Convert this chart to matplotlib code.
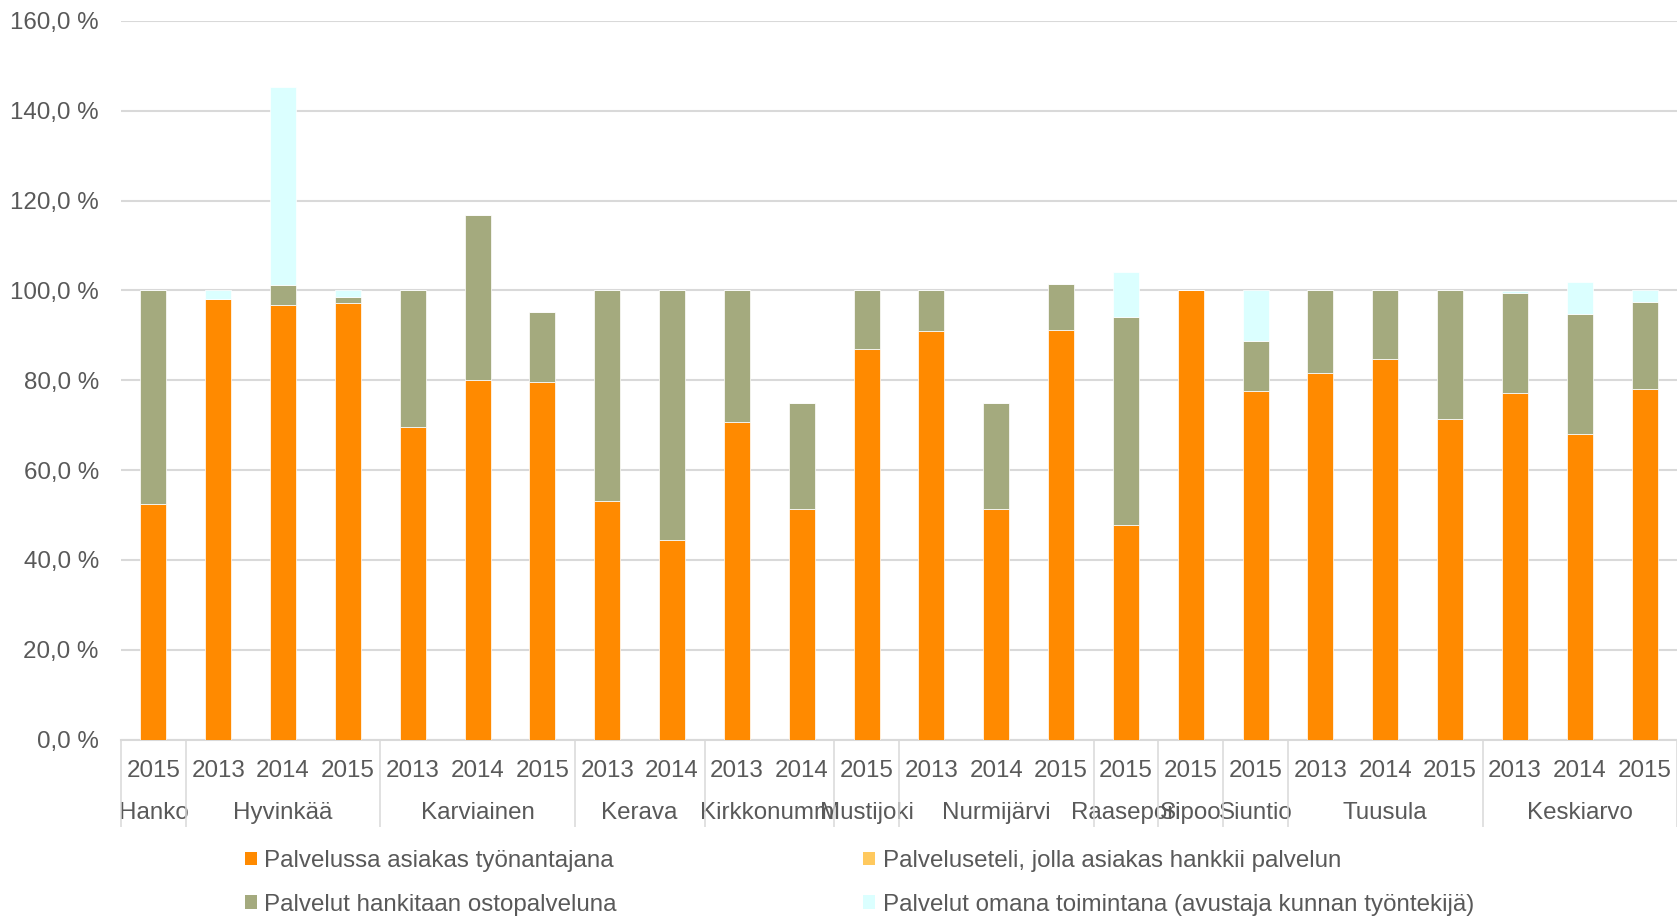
import matplotlib
matplotlib.use("Agg")
import matplotlib.pyplot as plt
from matplotlib.patches import Patch
import numpy as np

plt.rcParams['font.family'] = ['Liberation Sans', 'DejaVu Sans']

# ---- data ----
groups = ["Hanko", "Hyvinkää", "Karviainen", "Kerava", "Kirkkonummi", "Mustijoki",
          "Nurmijärvi", "Raasepori", "Sipoo", "Siuntio", "Tuusula", "Keskiarvo"]
group_years = [["2015"], ["2013", "2014", "2015"], ["2013", "2014", "2015"],
               ["2013", "2014"], ["2013", "2014"], ["2015"],
               ["2013", "2014", "2015"], ["2015"], ["2015"], ["2015"],
               ["2013", "2014", "2015"], ["2013", "2014", "2015"]]

series_names = ["Palvelussa asiakas työnantajana",
                "Palveluseteli, jolla asiakas hankkii palvelun",
                "Palvelut hankitaan ostopalveluna",
                "Palvelut omana toimintana (avustaja kunnan työntekijä)"]

tyonantaja = [52.5, 98.2, 96.8, 97.3, 69.7, 80.0, 79.6, 53.2, 44.4, 70.6, 51.3, 86.9,
              90.9, 51.3, 91.2, 47.7, 100.0, 77.7, 81.6, 84.7, 71.4, 77.2, 68.0, 78.1]
palveluseteli = [0.0] * 24
ostopalvelu = [47.5, 0.0, 4.5, 1.3, 30.3, 36.8, 15.7, 46.8, 55.6, 29.4, 23.6, 13.1,
               9.1, 23.7, 10.2, 46.3, 0.0, 11.1, 18.4, 15.3, 28.6, 22.3, 26.7, 19.4]
oma = [0.0, 1.8, 44.0, 1.4, 0.0, 0.0, 0.0, 0.0, 0.0, 0.0, 0.0, 0.0,
       0.0, 0.0, 0.0, 10.1, 0.0, 11.2, 0.0, 0.0, 0.0, 0.3, 7.2, 2.5]

colors = ["#FF8A00", "#FFC95E", "#A4AA7E", "#DBFFFF"]
text_color = "#595959"
grid_color = "#D9D9D9"
fs = 17.4

# ---- figure ----
W, H = 1677, 917
fig = plt.figure(figsize=(W / 100, H / 100), dpi=100)
ax = fig.add_axes([121 / W, 1 - 739.5 / H, 1 - 121 / W, (739.5 - 21) / H])

years = [y for ys in group_years for y in ys]
x = np.arange(len(years))
bottom = np.zeros(len(years))
for vals, col, name in zip([tyonantaja, palveluseteli, ostopalvelu, oma], colors, series_names):
    v = np.array(vals)
    ax.bar(x, v, width=0.4, bottom=bottom, color=col, edgecolor="white",
           linewidth=0.5, label=name, zorder=3)
    bottom += v

ax.set_xlim(-0.5, len(years) - 0.5)
ax.set_ylim(0, 160)
yt = np.arange(0, 161, 20)
ax.set_yticks(yt)
ax.set_yticklabels([f"{v:.1f}".replace(".", ",") + " %" for v in yt])
ax.yaxis.grid(True, color=grid_color, linewidth=1.5, zorder=0)
ax.set_axisbelow(True)
for s in ["left", "right", "top"]:
    ax.spines[s].set_visible(False)
ax.spines["bottom"].set_color(grid_color)
ax.spines["bottom"].set_linewidth(1.5)
ax.tick_params(axis="y", length=0, pad=16, labelsize=fs, labelcolor=text_color)

ax.set_xticks(x)
ax.set_xticklabels(years)
ax.tick_params(axis="x", which="major", length=0, pad=14.5, labelsize=fs, labelcolor=text_color)

# group boundaries as long minor ticks
bounds = [-0.5]
centers = []
pos = -0.5
for ys in group_years:
    centers.append(pos + len(ys) / 2)
    pos += len(ys)
    bounds.append(pos)
ax.set_xticks(bounds, minor=True)
ax.tick_params(axis="x", which="minor", length=62.5, width=1.1, color=grid_color, direction="out")

sec = ax.secondary_xaxis("bottom")
sec.set_xticks(centers)
sec.set_xticklabels(groups)
sec.tick_params(axis="x", length=0, pad=45, labelsize=fs, labelcolor=text_color)
sec.spines["bottom"].set_visible(False)

handles = [Patch(facecolor=c, edgecolor="none") for c in colors]
order = [0, 2, 1, 3]
leg = fig.legend([handles[i] for i in order], [series_names[i] for i in order],
                 ncol=2, loc="upper left", bbox_to_anchor=(245 / W, 1 - 850 / H),
                 frameon=False, fontsize=fs, handlelength=0.5, handleheight=0.5,
                 handletextpad=0.3, columnspacing=10.2, labelspacing=0.9,
                 borderpad=0, borderaxespad=0)
for t in leg.get_texts():
    t.set_color(text_color)

fig.savefig("out.png", dpi=100)
